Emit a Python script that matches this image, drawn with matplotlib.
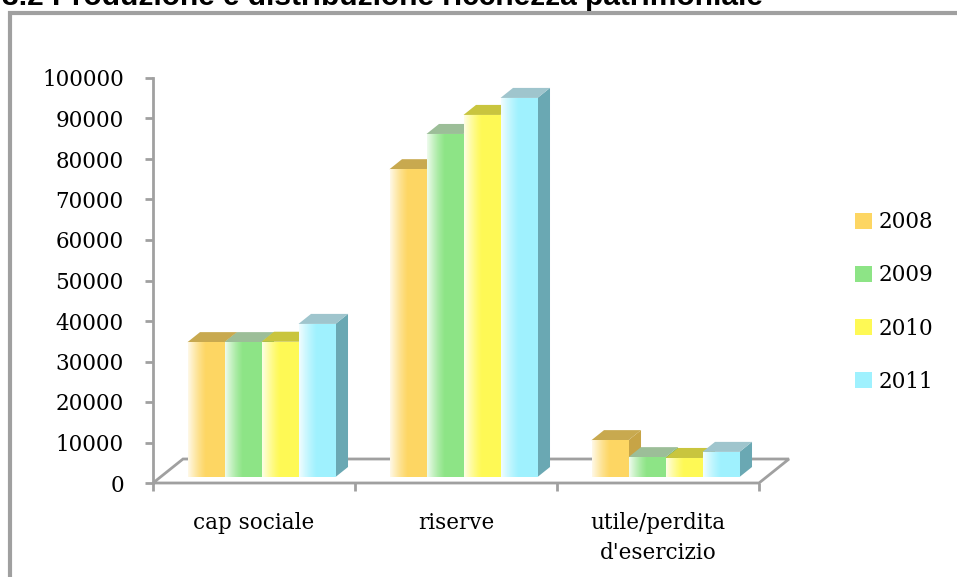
import matplotlib
matplotlib.use("Agg")
import matplotlib.pyplot as plt
import numpy as np
from matplotlib.patches import Patch, Polygon, Rectangle

categorie = ["cap sociale", "riserve", "utile/perdita\nd'esercizio"]
anni = ["2008", "2009", "2010", "2011"]
valori = {
    "2008": [33300, 76000, 9100],
    "2009": [33300, 84700, 4900],
    "2010": [33400, 89400, 4700],
    "2011": [37800, 93600, 6200],
}
colori = ["#FDD663", "#8DE486", "#FEF955", "#9FF1FE"]
colori_lato = ["#C7A446", "#6FB36A", "#C6C23A", "#6AA8B3"]
colori_top = ["#C8A94F", "#9CBE98", "#C9C53E", "#9FC5CD"]

fig = plt.figure(figsize=(9.57, 5.77), dpi=100)
ax = fig.add_axes([153/957, 1-483/577, 606/957, 405/577])

# profondita' del pavimento (in unita' dati)
dxf = 30/202
dyf = 24/0.00405
w = 37/202
f0, f1 = 0.25, 0.667

grigio = "#A0A0A0"

# pavimento
ax.add_patch(Polygon([(-0.5, 0), (2.5, 0), (2.5+dxf, dyf), (-0.5+dxf, dyf)],
                     closed=True, facecolor="white", edgecolor=grigio, lw=2,
                     clip_on=False, zorder=1))

grad = np.zeros((1, 64, 4))
grad[..., :3] = 1.0
grad[0, :, 3] = np.clip(1 - np.linspace(0, 1, 64)/0.5, 0, 1)**1.3*0.85

ddx = (f1-f0)*dxf
ddy = (f1-f0)*dyf
for i in range(len(categorie)):
    for j, a in enumerate(anni):
        v = valori[a][i]
        x0 = i + (j-1.5)*w - w/2 + f0*dxf
        y0 = f0*dyf
        x1 = x0 + w
        y1 = y0 + v
        # lato
        ax.add_patch(Polygon([(x1, y0), (x1, y1), (x1+ddx, y1+ddy), (x1+ddx, y0+ddy)],
                             closed=True, facecolor=colori_lato[j], edgecolor="none",
                             clip_on=False, zorder=2))
        # sopra
        ax.add_patch(Polygon([(x0, y1), (x1, y1), (x1+ddx, y1+ddy), (x0+ddx, y1+ddy)],
                             closed=True, facecolor=colori_top[j], edgecolor="none",
                             clip_on=False, zorder=2))
        rect = Rectangle((x0, y0), w, v, facecolor=colori[j], edgecolor="none",
                         clip_on=False, zorder=2)
        ax.add_patch(rect)
        im = ax.imshow(grad, extent=[x0, x1, y0, y1], aspect="auto", zorder=2,
                       interpolation="bilinear")
        im.set_clip_path(rect)

ax.set_xlim(-0.5, 2.5)
ax.set_ylim(0, 100000)
ax.set_aspect("auto")

for s in ["top", "right"]:
    ax.spines[s].set_visible(False)
ax.spines["left"].set_color(grigio)
ax.spines["left"].set_linewidth(2)
ax.spines["bottom"].set_visible(False)

ax.set_yticks(np.arange(0, 100001, 10000))
ax.set_yticklabels([str(t) for t in range(0, 100001, 10000)])
ax.set_xticks([0, 1, 2])
ax.set_xticklabels(categorie, linespacing=1.45)
ax.set_xticks([-0.5, 0.5, 1.5, 2.5], minor=True)
ax.tick_params(axis="y", length=6, width=2, color=grigio, pad=15,
               labelsize=15.5, labelfontfamily="DejaVu Serif")
ax.tick_params(axis="x", which="major", length=0, pad=21,
               labelsize=15.5, labelfontfamily="DejaVu Serif")
ax.tick_params(axis="x", which="minor", length=6, width=2, color=grigio)

maniglie = [Patch(facecolor=c, edgecolor="none") for c in colori]
fig.legend(maniglie, anni, loc="center left", bbox_to_anchor=(836/957, 1-302/577),
           frameon=False, handlelength=0.75, handleheight=0.75, handletextpad=0.35,
           labelspacing=1.45, prop={"family": "DejaVu Serif", "size": 15.5})

# cornice esterna
fig.add_artist(Rectangle((10/957, -0.1), 1.2, 1-13/577+0.1, transform=fig.transFigure,
                         facecolor="none", edgecolor=grigio, lw=3))

fig.text(2/957, 1-5/577, "3.2 Produzione e distribuzione ricchezza patrimoniale",
         fontsize=21.5, fontweight="bold", family="Liberation Sans", va="baseline")

fig.savefig("out.png", dpi=100)
